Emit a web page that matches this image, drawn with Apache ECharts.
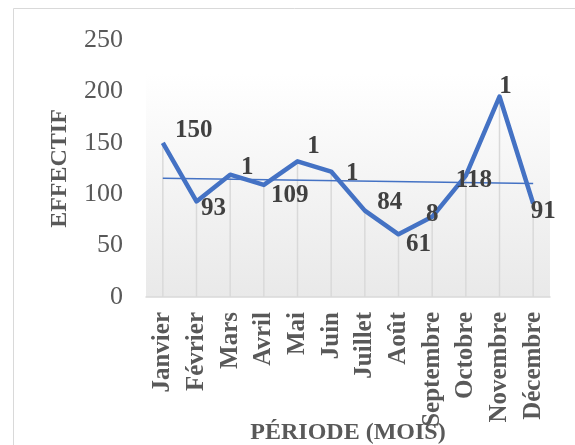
<!DOCTYPE html>
<html>
<head>
<meta charset="utf-8">
<script src="https://cdn.jsdelivr.net/npm/echarts@6/dist/echarts.min.js"></script>
<style>
  html, body { margin: 0; padding: 0; background: #fff; }
  #chart { width: 575px; height: 445px; }
</style>
</head>
<body>
<div id="chart"></div>
<script>
// mois
var months = ['Janvier', 'Février', 'Mars', 'Avril', 'Mai', 'Juin', 'Juillet', 'Août', 'Septembre', 'Octobre', 'Novembre', 'Décembre'];
// effectif par mois
var effectif = [150, 93, 119, 109, 132, 122, 84, 61, 78, 118, 195, 91];
// étiquettes telles qu'affichées (certaines tronquées)
var pointLabels = ['150', '93', '1', '109', '1', '1', '84', '61', '8', '118', '1', '91'];
// tendance linéaire : début et fin seulement
var trend = [115.4, null, null, null, null, null, null, null, null, null, null, 110.3];
var yTicks = [0, 50, 100, 150, 200, 250];

// décalages des étiquettes (px)
var labelOffsets = [[31, -12], [17, 7], [17, -7], [26, 11], [16, -15], [21, 2], [25, -8], [20, 10], [0, -2], [8, 5], [6, -10], [10, 8]];

var serif = 'Liberation Serif, Times New Roman, serif';

var lineData = effectif.map(function (v, i) {
    return {
        value: v,
        label: { offset: labelOffsets[i] }
    };
});

var chart = echarts.init(document.getElementById('chart'));

chart.setOption({
    animation: false,
    grid: {
        left: 146,
        right: 25,
        top: 40,
        bottom: 148,
        containLabel: false,
        outerBoundsMode: 'none',
        show: true,
        borderWidth: 0,
        backgroundColor: new echarts.graphic.LinearGradient(0, 0, 0, 1, [
            { offset: 0, color: '#ffffff' },
            { offset: 0.13, color: '#ffffff' },
            { offset: 1, color: '#e9e9e9' }
        ])
    },
    graphic: [{
        type: 'rect',
        silent: true,
        shape: { x: 13.5, y: 8.5, width: 700, height: 600 },
        style: { fill: 'none', stroke: '#d9d9d9', lineWidth: 1 }
    }],
    xAxis: {
        type: 'category',
        data: months,
        name: 'PÉRIODE (MOIS)',
        nameLocation: 'middle',
        nameGap: 124,
        nameMoveOverlap: false,
        nameTextStyle: { fontFamily: serif, fontWeight: 'bold', fontSize: 24, color: '#595959' },
        axisLine: { lineStyle: { color: '#d9d9d9', width: 1.5 } },
        axisTick: { show: false },
        axisLabel: {
            interval: 0,
            rotate: 90,
            margin: 15,
            fontFamily: serif,
            fontWeight: 'bold',
            fontSize: 25,
            color: '#595959'
        },
        splitLine: { show: false }
    },
    yAxis: {
        type: 'value',
        min: 0,
        max: 250,
        interval: 50,
        name: 'EFFECTIF',
        nameLocation: 'middle',
        nameGap: 74,
        nameMoveOverlap: false,
        nameTextStyle: { fontFamily: serif, fontWeight: 'bold', fontSize: 24, color: '#595959' },
        axisLine: { show: false },
        axisTick: { show: false },
        splitLine: { show: false },
        axisLabel: {
            margin: 23,
            fontFamily: serif,
            fontSize: 26,
            color: '#595959',
            customValues: yTicks
        }
    },
    series: [
        {
            // lignes de projection
            type: 'bar',
            data: effectif,
            barWidth: 1.5,
            silent: true,
            itemStyle: { color: '#d9d9d9' },
            z: 1
        },
        {
            type: 'line',
            data: trend,
            connectNulls: true,
            symbol: 'none',
            silent: true,
            lineStyle: { color: '#4472c4', width: 1.5 },
            z: 2
        },
        {
            type: 'line',
            data: lineData,
            symbol: 'circle',
            symbolSize: 1,
            showSymbol: true,
            itemStyle: { color: 'rgba(0,0,0,0)' },
            lineStyle: { color: '#4472c4', width: 4.5, join: 'round' },
            z: 3,
            label: {
                show: true,
                position: 'inside',
                fontFamily: serif,
                fontWeight: 'bold',
                fontSize: 25,
                color: '#404040',
                formatter: function (p) { return pointLabels[p.dataIndex]; }
            }
        }
    ]
});
</script>
</body>
</html>
